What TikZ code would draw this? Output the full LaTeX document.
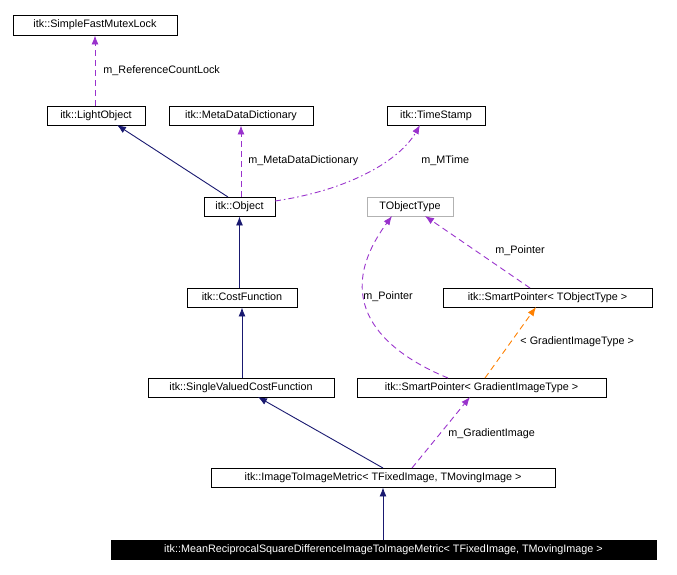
\documentclass[tikz,border=0pt]{standalone}
\usepackage{fontspec}
\setmainfont{Liberation Sans}
\usetikzlibrary{arrows.meta}
\definecolor{navy}{RGB}{25,25,112}
\definecolor{purp}{RGB}{153,50,204}
\begin{document}
\begin{tikzpicture}[x=1pt,y=-1pt,line width=0.9pt,
  box/.style={draw,rectangle,inner sep=0pt,text height=7.5pt,text depth=2pt,font=\fontsize{10.8}{11}\selectfont},
  lbl/.style={font=\fontsize{10.8}{11}\selectfont,anchor=west,inner sep=0pt},
  inh/.style={draw=navy,-{Latex[length=9pt,width=7pt]}},
  use/.style={draw=purp,dash pattern=on 6pt off 4pt,-{Latex[length=9pt,width=7pt]}},
  tmpl/.style={draw=orange,dash pattern=on 6pt off 4pt,-{Latex[length=9pt,width=7pt]}}]
\useasboundingbox (0,0) rectangle (677,574);
\node[box,minimum width=164,minimum height=20] (sfml) at (95,25) {itk::SimpleFastMutexLock};
\node[box,minimum width=98,minimum height=19] (lo) at (96,115.5) {itk::LightObject};
\node[box,minimum width=144,minimum height=19] (mdd) at (241,115.5) {itk::MetaDataDictionary};
\node[box,minimum width=98,minimum height=19] (ts) at (436,115.5) {itk::TimeStamp};
\node[box,minimum width=71,minimum height=19] (obj) at (239.5,206.5) {itk::Object};
\node[box,draw=gray!60,minimum width=86,minimum height=19] (tot) at (410,206.5) {TObjectType};
\node[box,minimum width=110,minimum height=19] (cf) at (242,297.5) {itk::CostFunction};
\node[box,minimum width=209,minimum height=19] (spt) at (547.5,297.5) {itk::SmartPointer< TObjectType >};
\node[box,minimum width=186,minimum height=19] (svcf) at (241,387.5) {itk::SingleValuedCostFunction};
\node[box,minimum width=249,minimum height=19] (spg) at (481.5,387.5) {itk::SmartPointer< GradientImageType >};
\node[box,minimum width=344,minimum height=19] (iim) at (383,477.5) {itk::ImageToImageMetric< TFixedImage, TMovingImage >};
\node[box,fill=black,text=white,minimum width=545,minimum height=19] (mr) at (383.5,549.5) {itk::MeanReciprocalSquareDifferenceImageToImageMetric< TFixedImage, TMovingImage >};

\draw[use] (lo.north -| sfml.south) -- (sfml.south);
\node[lbl] (l1) at (103,71) {m\_ReferenceCountLock};
\draw[inh] (228,197) -- (117,125);
\draw[use] (obj.north -| mdd.south) -- (mdd.south);
\node[lbl] (l2) at (248,161) {m\_MetaDataDictionary};
\draw[use,dash pattern=on 6pt off 3pt on 1.5pt off 3pt] (275,201) .. controls (350,190) and (400,160) .. (420,125);
\node[lbl] (l3) at (421,161) {m\_MTime};
\draw[inh] (cf.north -| obj.south) -- (obj.south);
\draw[inh] (svcf.north -| cf.south) -- (cf.south);
\draw[inh] (383,468) -- (258,397);
\draw[use] (412,468) -- (470,397);
\node[lbl] (l4) at (448,434) {m\_GradientImage};
\draw[inh] (mr.north -| iim.south) -- (iim.south);
\draw[use] (448,378) .. controls (380,350) and (330,300) .. (392,216);
\node[lbl] (l5) at (363,297) {m\_Pointer};
\draw[use] (530,288) -- (425,216);
\node[lbl] (l6) at (495,251) {m\_Pointer};
\draw[tmpl] (485,378) -- (536,307);
\node[lbl] (l7) at (520,342) {< GradientImageType >};
\end{tikzpicture}
\end{document}
